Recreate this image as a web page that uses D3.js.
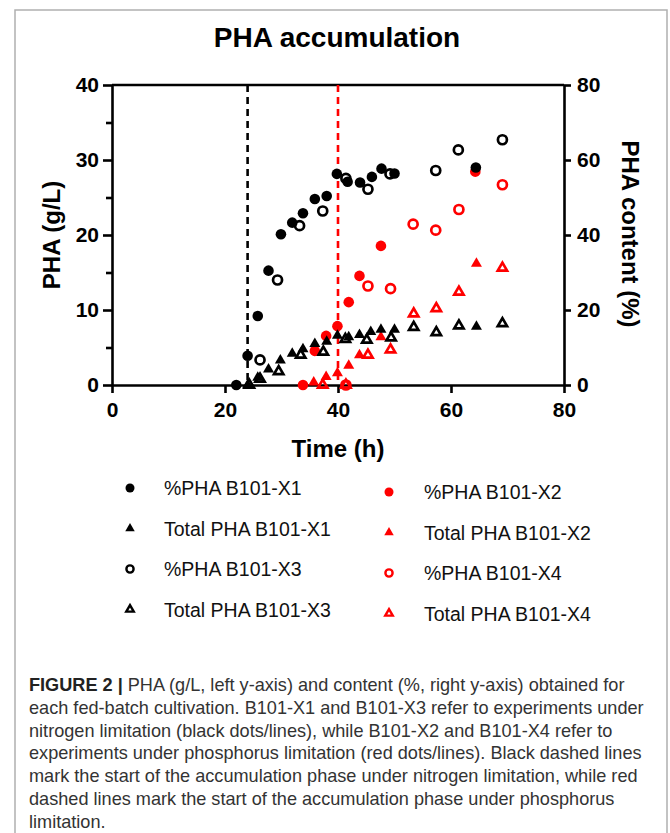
<!DOCTYPE html>
<html>
<head>
<meta charset="utf-8">
<script src="https://cdn.jsdelivr.net/npm/d3@7"></script>
<style>
  body { margin: 0; background: #fff; }
  svg text { font-family: "Liberation Sans", Arial, Helvetica, sans-serif; }
</style>
</head>
<body>
<div id="chart"></div>
<script>
// ---- data ----
// time (h) and %PHA (right axis) / total PHA in g/L (left axis)
var x1PctTime  = [22.0, 24.0, 25.8, 27.7, 29.9, 31.9, 33.8, 35.9, 38.0, 39.8, 41.7, 43.9, 46.0, 47.7, 50.0, 64.4];
var x1Pct      = [0, 7.8, 18.4, 30.5, 40.2, 43.3, 45.8, 49.6, 50.4, 56.3, 54.2, 54.0, 55.5, 57.7, 56.4, 58.0];
var x1TotTime  = [24.0, 25.8, 27.7, 29.8, 31.9, 33.8, 35.9, 38.0, 39.9, 41.9, 43.8, 45.8, 47.6, 50.0, 64.5];
var x1Tot      = [0, 1.0, 2.1, 3.3, 4.2, 4.8, 5.5, 5.8, 6.6, 6.4, 6.7, 7.1, 7.4, 7.4, 7.8];

var x3PctTime  = [26.2, 29.3, 33.2, 37.3, 41.4, 45.3, 49.2, 57.3, 61.3, 69.1];
var x3Pct      = [6.7, 28.0, 42.5, 46.4, 55.1, 52.2, 56.3, 57.2, 62.7, 65.4];
var x3TotTime  = [24.3, 26.2, 29.5, 33.4, 37.4, 41.3, 45.1, 49.4, 53.4, 57.4, 61.4, 69.1];
var x3Tot      = [0, 0.8, 1.8, 4.0, 4.4, 6.1, 6.0, 6.3, 7.7, 7.0, 7.9, 8.2];

var x2PctTime  = [33.8, 35.9, 37.9, 39.9, 41.9, 43.8, 47.6, 64.3];
var x2Pct      = [0, 9.1, 13.1, 15.7, 22.1, 29.1, 37.1, 56.9];
var x2TotTime  = [35.7, 37.9, 39.9, 41.9, 43.8, 47.6, 64.5];
var x2Tot      = [0.35, 1.1, 1.6, 2.6, 4.0, 6.4, 16.2];

var x4PctTime  = [41.4, 45.3, 49.3, 53.3, 57.3, 61.4, 69.1];
var x4Pct      = [0, 26.4, 25.7, 42.9, 41.3, 46.8, 53.4];
var x4TotTime  = [37.3, 41.4, 45.3, 49.3, 53.4, 57.4, 61.4, 69.1];
var x4Tot      = [0, 0, 4.0, 4.7, 9.5, 10.2, 12.4, 15.6];

// start of accumulation phase (h)
var nLimitStart = 24;
var pLimitStart = 40;

var xTicks = [0, 20, 40, 60, 80];
var leftTicks = [0, 10, 20, 30, 40];
var leftMinor = [5, 15, 25, 35];
var rightTicks = [0, 20, 40, 60, 80];

var legendLabels = ["%PHA B101-X1", "Total PHA B101-X1", "%PHA B101-X3", "Total PHA B101-X3",
                    "%PHA B101-X2", "Total PHA B101-X2", "%PHA B101-X4", "Total PHA B101-X4"];

var captionLines = [
  "PHA (g/L, left y-axis) and content (%, right y-axis) obtained for",
  "each fed-batch cultivation. B101-X1 and B101-X3 refer to experiments under",
  "nitrogen limitation (black dots/lines), while B101-X2 and B101-X4 refer to",
  "experiments under phosphorus limitation (red dots/lines). Black dashed lines",
  "mark the start of the accumulation phase under nitrogen limitation, while red",
  "dashed lines mark the start of the accumulation phase under phosphorus",
  "limitation."
];

var RED = "#ff0000";

// series: draw red first, black on top (as in the figure)
var series = [
  {t: x2PctTime, v: x2Pct, axis: "pct", shape: "circle",   fill: true,  color: RED},
  {t: x2TotTime, v: x2Tot, axis: "gl",  shape: "triangle", fill: true,  color: RED},
  {t: x4PctTime, v: x4Pct, axis: "pct", shape: "circle",   fill: false, color: RED},
  {t: x4TotTime, v: x4Tot, axis: "gl",  shape: "triangle", fill: false, color: RED},
  {t: x1PctTime, v: x1Pct, axis: "pct", shape: "circle",   fill: true,  color: "#000"},
  {t: x1TotTime, v: x1Tot, axis: "gl",  shape: "triangle", fill: true,  color: "#000"},
  {t: x3PctTime, v: x3Pct, axis: "pct", shape: "circle",   fill: false, color: "#000"},
  {t: x3TotTime, v: x3Tot, axis: "gl",  shape: "triangle", fill: false, color: "#000"}
];
// legend order: X1, X3 in left column, X2, X4 in right column
var legendSeries = [4, 5, 6, 7, 0, 1, 2, 3];

var W = 670, H = 833;
var svg = d3.select("#chart").append("svg")
  .attr("width", W).attr("height", H);

// grey frame round the figure
svg.append("path")
  .attr("d", "M15," + H + " L15,10 L667,10 L667," + H)
  .attr("fill", "none").attr("stroke", "#b0b0b0").attr("stroke-width", 1.5);

var x = d3.scaleLinear().domain([0, 80]).range([112, 564]);
var yGL = d3.scaleLinear().domain([0, 40]).range([385, 85]);
var yPct = d3.scaleLinear().domain([0, 80]).range([385, 85]);

svg.append("text")
  .attr("x", 337).attr("y", 47)
  .attr("text-anchor", "middle")
  .style("font-size", "28px").style("font-weight", "bold")
  .text("PHA accumulation");

// axes
function styleAxis(g) {
  g.select(".domain").attr("stroke", "#000").attr("stroke-width", 2.6);
  g.selectAll(".tick line").attr("stroke", "#000").attr("stroke-width", 2.6);
  g.selectAll(".tick text")
    .style("font-size", "21px").style("font-weight", "bold")
    .style("font-family", "'Liberation Sans', Arial, sans-serif")
    .attr("fill", "#000");
}

svg.append("g")
  .attr("transform", "translate(0,385)")
  .call(d3.axisBottom(x).tickValues(xTicks).tickSize(8).tickSizeOuter(0).tickPadding(9))
  .call(styleAxis);

svg.append("g")
  .attr("transform", "translate(112,0)")
  .call(d3.axisLeft(yGL).tickValues(leftMinor).tickSize(6).tickFormat(""))
  .call(styleAxis)
  .select(".domain").remove();

svg.append("g")
  .attr("transform", "translate(112,0)")
  .call(d3.axisLeft(yGL).tickValues(leftTicks).tickSize(9).tickSizeOuter(0).tickPadding(4))
  .call(styleAxis);

svg.append("g")
  .attr("transform", "translate(564,0)")
  .call(d3.axisRight(yPct).tickValues(rightTicks).tickSize(7).tickSizeOuter(0).tickPadding(6))
  .call(styleAxis);

// top border of the plot
svg.append("line")
  .attr("x1", x(0)).attr("x2", x(80))
  .attr("y1", yGL(40)).attr("y2", yGL(40))
  .attr("stroke", "#000").attr("stroke-width", 2.6);

// axis titles
svg.append("text")
  .attr("transform", "translate(60,235) rotate(-90)")
  .attr("text-anchor", "middle")
  .style("font-size", "24px").style("font-weight", "bold")
  .text("PHA (g/L)");

svg.append("text")
  .attr("transform", "translate(622,234) rotate(90)")
  .attr("text-anchor", "middle")
  .style("font-size", "24px").style("font-weight", "bold")
  .text("PHA content (%)");

svg.append("text")
  .attr("x", 338).attr("y", 457)
  .attr("text-anchor", "middle")
  .style("font-size", "24px").style("font-weight", "bold")
  .text("Time (h)");

// dashed lines for start of accumulation
[[nLimitStart, "#000"], [pLimitStart, RED]].forEach(function(d) {
  svg.append("line")
    .attr("x1", x(d[0])).attr("x2", x(d[0]))
    .attr("y1", yGL(40)).attr("y2", yGL(0))
    .attr("stroke", d[1]).attr("stroke-width", 2.6)
    .attr("stroke-dasharray", "7,5");
});

// markers
function markerPath(s, big) {
  if (s.shape === "circle") {
    var r = s.fill ? (big ? 5.3 : 4.5) : (big ? 4.5 : 3.6);
    return d3.symbol().type(d3.symbolCircle).size(Math.PI * r * r)();
  }
  var side = s.fill ? (big ? 11 : 9.5) : (big ? 9.3 : 7.5);
  return d3.symbol().type(d3.symbolTriangle).size(0.433 * side * side)();
}

function styleMarker(sel, s, big) {
  sel.attr("d", markerPath(s, big))
    .attr("fill", s.fill ? s.color : "none")
    .attr("stroke", s.fill ? "none" : s.color)
    .attr("stroke-width", s.fill ? 0 : (big ? 2.7 : 2.4));
}

var pts = svg.append("g").attr("id", "points");
series.forEach(function(s) {
  var yScale = s.axis === "pct" ? yPct : yGL;
  pts.append("g")
    .selectAll("path")
    .data(s.t.map(function(t, i) { return [t, s.v[i]]; }))
    .enter()
    .append("path")
    .attr("transform", function(d) { return "translate(" + x(d[0]) + "," + yScale(d[1]) + ")"; })
    .call(styleMarker, s, true);
});

// legend
var legend = svg.append("g").attr("id", "legend");
legendSeries.forEach(function(si, i) {
  var col = i < 4 ? 0 : 1;
  var row = i % 4;
  var sx = col === 0 ? 130 : 389;
  var tx = col === 0 ? 164 : 424;
  var cy = (col === 0 ? 488 : 492) + row * 40.5;
  legend.append("path")
    .attr("transform", "translate(" + sx + "," + cy + ")")
    .call(styleMarker, series[si], false);
  legend.append("text")
    .attr("x", tx).attr("y", cy + 7)
    .style("font-size", "19.5px")
    .attr("fill", "#111")
    .text(legendLabels[i]);
});

// caption
var cap = svg.append("g").attr("id", "caption");
var capFont = "'Liberation Sans Narrow', 'Arial Narrow', 'Liberation Sans', Arial, sans-serif";
captionLines.forEach(function(line, i) {
  var t = cap.append("text")
    .attr("x", 0).attr("y", 691 + i * 22.8)
    .style("font-family", capFont)
    .style("font-size", "19px")
    .attr("fill", "#333");
  if (i === 0) {
    t.append("tspan").style("font-weight", "bold").attr("fill", "#222").text("FIGURE 2 | ");
  }
  t.append("tspan").text(line);
});
// squeeze the caption to the width it has in the figure
var widest = 0;
cap.selectAll("text").each(function() { widest = Math.max(widest, this.getComputedTextLength()); });
var k = 615 / widest;
cap.attr("transform", "translate(29,0) scale(" + k + ",1)");
</script>
</body>
</html>
